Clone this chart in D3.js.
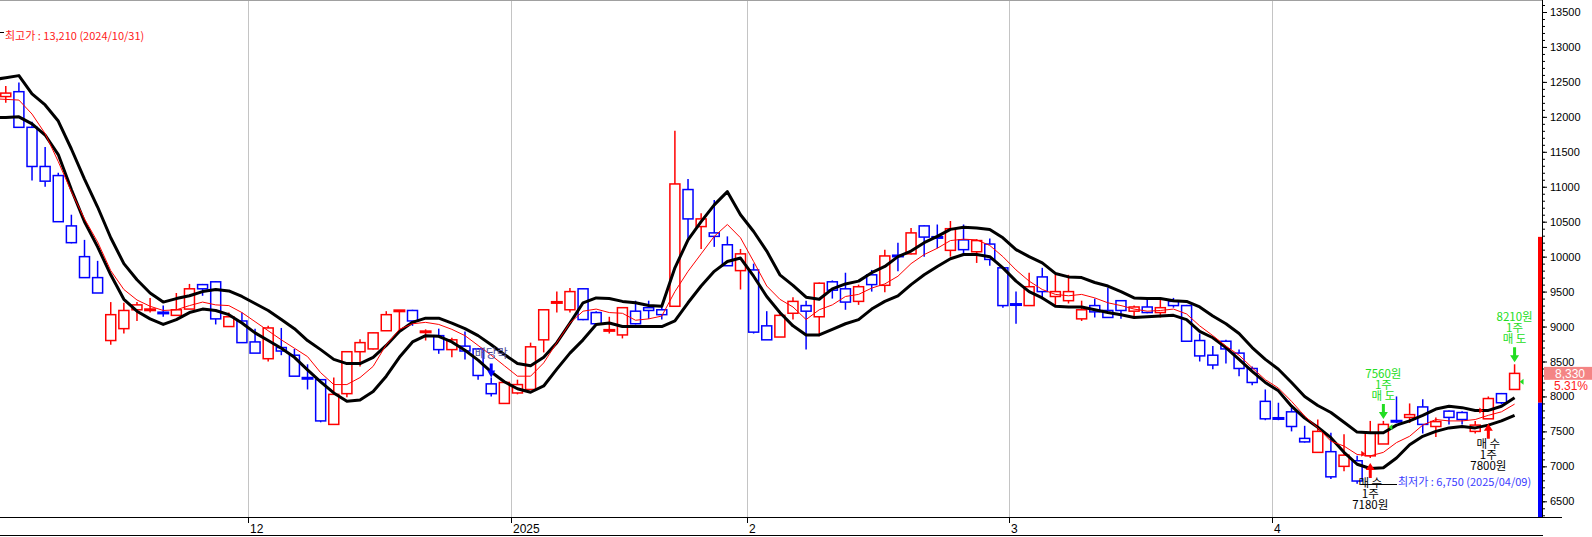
<!DOCTYPE html>
<html>
<head>
<meta charset="utf-8">
<script src="https://cdn.jsdelivr.net/npm/d3@7"></script>
<style>
  body { margin: 0; background: #fff; }
  svg { display: block; }
</style>
</head>
<body>
<div id="chart"></div>
<script>
// trading days shown (first one sits just off the left edge)
const dates = [
  "2024-11-04","2024-11-05","2024-11-06","2024-11-07","2024-11-08",
  "2024-11-11","2024-11-12","2024-11-13","2024-11-14","2024-11-15",
  "2024-11-18","2024-11-19","2024-11-20","2024-11-21","2024-11-22",
  "2024-11-25","2024-11-26","2024-11-27","2024-11-28","2024-11-29",
  "2024-12-02","2024-12-03","2024-12-04","2024-12-05","2024-12-06",
  "2024-12-09","2024-12-10","2024-12-11","2024-12-12","2024-12-13",
  "2024-12-16","2024-12-17","2024-12-18","2024-12-19","2024-12-20",
  "2024-12-23","2024-12-24","2024-12-26","2024-12-27","2024-12-30",
  "2025-01-02","2025-01-03","2025-01-06","2025-01-07","2025-01-08",
  "2025-01-09","2025-01-10","2025-01-13","2025-01-14","2025-01-15",
  "2025-01-16","2025-01-17","2025-01-20","2025-01-21","2025-01-22",
  "2025-01-23","2025-01-24","2025-01-31","2025-02-03","2025-02-04",
  "2025-02-05","2025-02-06","2025-02-07","2025-02-10","2025-02-11",
  "2025-02-12","2025-02-13","2025-02-14","2025-02-17","2025-02-18",
  "2025-02-19","2025-02-20","2025-02-21","2025-02-24","2025-02-25",
  "2025-02-26","2025-02-27","2025-02-28","2025-03-04","2025-03-05",
  "2025-03-06","2025-03-07","2025-03-10","2025-03-11","2025-03-12",
  "2025-03-13","2025-03-14","2025-03-17","2025-03-18","2025-03-19",
  "2025-03-20","2025-03-21","2025-03-24","2025-03-25","2025-03-26",
  "2025-03-27","2025-03-28","2025-03-31","2025-04-01","2025-04-02",
  "2025-04-03","2025-04-04","2025-04-07","2025-04-08","2025-04-09",
  "2025-04-10","2025-04-11","2025-04-14","2025-04-15","2025-04-16",
  "2025-04-17","2025-04-18","2025-04-21","2025-04-22","2025-04-23",
  "2025-04-24","2025-04-25"
]

const opens = [
  12250,12290,12360,11850,11290,11160,10440,10000,9700,8800,
  8970,9240,9230,9200,9160,9250,9600,9640,9000,9080,
  8780,8540,8700,8590,8270,8240,7600,8040,8640,8680,
  8940,9220,9230,8920,8870,8670,8720,8680,8180,7900,
  8050,8100,8810,9340,9240,9540,9200,8940,8880,9220,
  9270,9240,9290,10960,10430,10340,10170,9800,9810,9010,
  8850,9190,9300,9140,9640,9540,9360,9740,9590,10020,
  10040,10440,10280,10090,10240,10070,10180,9840,9320,9300,
  9710,9430,9370,9110,9300,9230,9370,9220,9280,9200,
  9360,9300,8800,8590,8790,8620,8400,7930,7690,7780,
  7400,7200,7210,7000,7080,7150,7320,7650,7700,7850,
  7570,7790,7770,7500,7680,8040,8100
]
const highs = [
  12400,12440,12490,11930,11570,11200,10600,10240,9940,9350,
  9340,9350,9410,9300,9480,9610,9610,9650,9200,9200,
  8970,9010,8980,8680,8460,8250,8270,8650,8820,8920,
  9220,9230,9240,8960,8970,8840,8930,8690,8270,8220,
  8240,8770,9250,9500,9550,9550,9220,9140,9270,9370,
  9370,9300,11800,11110,10620,10810,10290,10110,9900,9220,
  9220,9420,9370,9630,9660,9770,9600,9810,10100,10200,
  10410,10450,10460,10510,10460,10250,10260,9850,9500,9770,
  9840,9740,9740,9370,9400,9560,9380,9300,9390,9390,
  9410,9310,8900,8720,8810,8670,8430,8100,7910,7840,
  7580,7670,7480,7460,7150,7650,7650,8000,7900,7960,
  7700,7800,7790,7650,8000,8050,8460
]
const lows = [
  12150,12200,11850,11090,11000,10500,10190,9700,9480,8740,
  8900,9080,9200,9140,9160,9250,9440,9030,9000,8770,
  8620,8500,8590,8290,8100,7630,7600,7990,8430,8670,
  8940,8930,9010,8800,8610,8560,8530,8240,8000,7900,
  8030,8100,8630,9200,9200,9090,9040,8900,8830,9030,
  9110,9100,9280,10230,10110,10140,9870,9530,8900,8810,
  8850,9100,8670,8860,9400,9240,9310,9500,9490,9790,
  10030,10000,10120,10000,10030,9910,9870,9270,9040,9300,
  9390,9300,9330,9080,9130,9130,9110,9130,9190,9130,
  9270,8790,8500,8390,8470,8290,8160,7660,7660,7500,
  7340,7190,6820,6930,6750,7120,7320,7620,7620,7470,
  7420,7600,7600,7470,7680,7890,8100
]
const closes = [
  12300,12340,11850,11290,11080,10500,10200,9700,9480,9170,
  9230,9310,9250,9190,9240,9540,9540,9110,9140,8770,
  8620,8980,8650,8290,8250,7650,8030,8640,8770,8910,
  9170,9230,9080,8930,8670,8810,8650,8300,8040,8200,
  8170,8710,9240,9350,9500,9100,9040,8950,9270,9040,
  9230,9170,11040,10540,10540,10290,9870,10040,8920,8810,
  9160,9360,9220,9620,9520,9350,9570,9600,10010,10000,
  10340,10280,10270,10400,10100,10230,9960,9300,9310,9570,
  9500,9500,9500,9240,9210,9130,9230,9280,9200,9270,
  9300,8790,8580,8450,8680,8400,8200,7680,7680,7570,
  7350,7500,6850,7160,6790,7480,7600,7640,7740,7600,
  7640,7700,7670,7590,7970,7910,8330
]

// envelope lines (black) and short moving average (red)
const upperBand = [
  12530,12560,12590,12330,12170,11940,11540,11110,10710,10270,
  9900,9670,9480,9350,9400,9440,9500,9530,9510,9430,
  9330,9230,9100,8970,8800,8670,8530,8470,8470,8560,
  8730,8930,9060,9120,9120,9050,8970,8870,8740,8600,
  8470,8440,8560,8770,9050,9340,9410,9400,9360,9340,
  9300,9290,9840,10240,10500,10740,10930,10600,10360,10080,
  9740,9590,9420,9390,9540,9610,9650,9770,9860,10000,
  10080,10200,10290,10390,10420,10410,10390,10270,10100,10000,
  9910,9760,9710,9700,9630,9580,9500,9410,9400,9400,
  9370,9360,9280,9150,9040,8900,8700,8530,8390,8200,
  8000,7870,7770,7630,7490,7480,7480,7590,7650,7730,
  7820,7860,7840,7800,7800,7860,7980
]
const lowerBand = [
  11990,11990,12000,11900,11740,11460,10960,10500,10140,9740,
  9390,9220,9110,9030,9100,9200,9250,9230,9170,9050,
  8910,8800,8690,8560,8380,8210,8050,7930,7950,8070,
  8290,8560,8780,8870,8860,8780,8660,8520,8350,8210,
  8110,8060,8150,8390,8620,8810,9030,9050,9000,9000,
  9000,9000,9080,9340,9580,9790,9930,9980,9720,9430,
  9200,9010,8880,8880,8960,9040,9100,9250,9360,9440,
  9600,9740,9860,9970,10030,10030,10000,9840,9650,9500,
  9410,9290,9280,9280,9240,9200,9170,9130,9140,9150,
  9160,9100,8930,8840,8700,8530,8360,8200,8080,7860,
  7690,7560,7410,7200,7030,6970,6980,7120,7310,7430,
  7500,7550,7570,7550,7590,7650,7730
]
const ma5 = [
  12260,12250,12240,12040,11760,11360,10930,10540,10210,9800,
  9530,9380,9290,9230,9240,9300,9350,9310,9300,9200,
  9070,8940,8810,8690,8570,8340,8170,8170,8270,8430,
  8740,8960,9040,9060,9030,8960,8870,8730,8590,8440,
  8290,8290,8480,8770,9050,9220,9250,9200,9190,9090,
  9110,9150,9500,9790,10040,10290,10460,10270,9930,9580,
  9390,9280,9100,9240,9310,9430,9460,9550,9610,9720,
  9900,10030,10120,10230,10250,10240,10160,10000,9810,9650,
  9530,9460,9440,9460,9410,9340,9300,9250,9220,9230,
  9250,9180,9010,8870,8720,8590,8410,8240,8120,7930,
  7720,7550,7360,7290,7170,7150,7200,7340,7430,7590,
  7670,7650,7650,7670,7730,7780,7890
]

const monthTicks = ["2024-12-02","2025-01-02","2025-02-03","2025-03-04","2025-04-01"]
const monthLabels = ["12","2025","2","3","4"]
const priceTicks = [6500,7000,7500,8000,8500,9000,9500,10000,10500,11000,11500,12000,12500,13000,13500]

const tradeDates = ["2025-04-10","2025-04-11","2025-04-23","2025-04-25"]
const tradeSides = ["buy","sell","buy","sell"]
const tradePrices = [7180,7560,7800,8210]

const exDivDate = "2024-12-27"
const lastPrice = 8330, prevClose = 7910, upperLimit = 10283, changePct = "5.31%"
const highLabel = "최고가 : 13,210 (2024/10/31)"
const lowLabel = "최저가 : 6,750 (2025/04/09)", lowDate = "2025-04-09", lowPrice = 6750

// ---- layout
const W = 1592, H = 537
const axisX = 1542, plotBottom = 517
const numFont = "'Liberation Sans', Arial, sans-serif"
const krFont = "'Noto Sans CJK KR', 'Noto Sans', sans-serif"

const x = d3.scaleBand().domain(dates).range([-13.9, -13.9 + dates.length * 13.12])
const y = d3.scaleLinear().domain([6500, 13500]).range([501.3, 12])
const cx = d => x(d) + x.bandwidth() / 2

const svg = d3.select("#chart").append("svg").attr("width", W).attr("height", H)

svg.append("defs").append("clipPath").attr("id", "plot")
    .append("rect").attr("x", 0).attr("y", 0).attr("width", 1538).attr("height", plotBottom)

// month grid
svg.append("g").selectAll("line").data(monthTicks).join("line")
    .attr("x1", d => Math.round(x(d)) + 0.5).attr("x2", d => Math.round(x(d)) + 0.5)
    .attr("y1", 0).attr("y2", plotBottom)
    .attr("stroke", "#c4c4c4")

// frame
svg.append("line").attr("x1", 0).attr("x2", axisX).attr("y1", 0.5).attr("y2", 0.5).attr("stroke", "#a0a0a0")
svg.append("line").attr("x1", 0).attr("x2", 1562).attr("y1", plotBottom + 0.5).attr("y2", plotBottom + 0.5).attr("stroke", "#000")
svg.append("line").attr("x1", 0).attr("x2", axisX + 1).attr("y1", 535.5).attr("y2", 535.5).attr("stroke", "#000")

// candles
const candles = dates.map((d, i) => ({ d: d, o: opens[i], h: highs[i], l: lows[i], c: closes[i] }))
const colour = k => k.c >= k.o ? "#ff0000" : "#0000ff"
const bodyTop = k => y(Math.max(k.o, k.c))
const bodyBot = k => y(Math.min(k.o, k.c))
const flat = k => bodyBot(k) - bodyTop(k) < 2.5

const plot = svg.append("g").attr("clip-path", "url(#plot)")
const cg = plot.append("g").selectAll("g").data(candles).join("g")

cg.append("line")
    .attr("x1", k => cx(k.d)).attr("x2", k => cx(k.d))
    .attr("y1", k => y(k.h)).attr("y2", bodyTop)
    .attr("stroke", colour).attr("stroke-width", 1.5)
cg.append("line")
    .attr("x1", k => cx(k.d)).attr("x2", k => cx(k.d))
    .attr("y1", bodyBot).attr("y2", k => y(k.l))
    .attr("stroke", colour).attr("stroke-width", 1.5)
cg.filter(k => !flat(k)).append("rect")
    .attr("x", k => cx(k.d) - 5).attr("y", bodyTop)
    .attr("width", 10).attr("height", k => bodyBot(k) - bodyTop(k))
    .attr("fill", "#fff").attr("stroke", colour).attr("stroke-width", 1.5)
cg.filter(flat).append("line")
    .attr("x1", k => cx(k.d) - 6).attr("x2", k => cx(k.d) + 6)
    .attr("y1", k => (bodyTop(k) + bodyBot(k)) / 2).attr("y2", k => (bodyTop(k) + bodyBot(k)) / 2)
    .attr("stroke", colour).attr("stroke-width", 3)

// bands
const line = d3.line().x((v, i) => cx(dates[i])).y(v => y(v))
plot.append("path").datum(upperBand).attr("d", line)
    .attr("fill", "none").attr("stroke", "#000").attr("stroke-width", 3).attr("stroke-linejoin", "round")
plot.append("path").datum(lowerBand).attr("d", line)
    .attr("fill", "none").attr("stroke", "#000").attr("stroke-width", 3).attr("stroke-linejoin", "round")
plot.append("path").datum(ma5).attr("d", line)
    .attr("fill", "none").attr("stroke", "#ff0000").attr("stroke-width", 1)

// arrows: dir 1 points down, -1 points up
function arrow(g, xc, tip, dir, col, len, headW, headL, shaft) {
    const base = tip - dir * len, neck = tip - dir * headL
    const p = [[xc - shaft / 2, base], [xc + shaft / 2, base], [xc + shaft / 2, neck], [xc + headW / 2, neck],
               [xc, tip], [xc - headW / 2, neck], [xc - shaft / 2, neck]]
    g.append("path").attr("d", d3.line()(p) + "Z").attr("fill", col)
}

// stacked note: one text element, one tspan per line
function note(g, xc, y0, lines, col) {
    const t = g.append("text").attr("x", xc).attr("y", y0)
        .attr("text-anchor", "middle").attr("font-family", krFont).attr("font-size", 11.5).attr("fill", col)
    lines.forEach((s, j) => t.append("tspan").attr("x", xc).attr("dy", j == 0 ? 0 : 11).text(s))
}

const ann = svg.append("g")

// ex-dividend note
const exK = candles[dates.indexOf(exDivDate)]
ann.append("text").attr("x", cx(exDivDate)).attr("y", y(exK.h) - 20)
    .attr("text-anchor", "middle").attr("font-family", krFont).attr("font-size", 12)
    .attr("fill", "#50509a").text("배당락")
arrow(ann, cx(exDivDate), y(exK.h), 1, "#0000ff", 14, 8, 7, 3)

// trades
tradeDates.forEach((d, i) => {
    const k = candles[dates.indexOf(d)], xc = cx(d), py = y(tradePrices[i])
    if (tradeSides[i] == "buy") {
        const tip = y(k.l) + 5
        arrow(ann, xc, tip, -1, "#ff0000", 15, 9, 7, 3)
        ann.append("path").attr("d", d3.line()([[xc - 9, py - 3], [xc - 9, py + 3], [xc - 5, py]]) + "Z").attr("fill", "#ff0000")
        note(ann, xc, tip + 24, ["매 수", "1주", tradePrices[i] + "원"], "#000")
    } else {
        const tip = y(k.h) - 2
        arrow(ann, xc, tip, 1, "#22dd22", 15, 9, 7, 3)
        ann.append("path").attr("d", d3.line()([[xc + 9, py - 3], [xc + 9, py + 3], [xc + 5, py]]) + "Z").attr("fill", "#22dd22")
        note(ann, xc, tip - 41, [tradePrices[i] + "원", "1주", "매 도"], "#22dd22")
    }
})

// highest / lowest price notes
ann.append("line").attr("x1", 0).attr("x2", 4).attr("y1", 32.5).attr("y2", 32.5).attr("stroke", "#000")
ann.append("text").attr("x", 5).attr("y", 40).attr("font-family", krFont).attr("font-size", 11)
    .attr("fill", "#ff2020").text(highLabel)
ann.append("line").attr("x1", cx(lowDate) + 4).attr("x2", 1397).attr("y1", Math.round(y(lowPrice)) + 0.5).attr("y2", Math.round(y(lowPrice)) + 0.5)
    .attr("stroke", "#000")
ann.append("text").attr("x", 1398).attr("y", y(lowPrice) + 2).attr("font-family", krFont).attr("font-size", 11)
    .attr("fill", "#3c3cff").text(lowLabel)

// right axis
svg.append("rect").attr("x", 1538).attr("y", y(upperLimit)).attr("width", 4).attr("height", y(prevClose) - y(upperLimit)).attr("fill", "#ff0000")
svg.append("rect").attr("x", 1538).attr("y", y(prevClose)).attr("width", 4).attr("height", plotBottom - y(prevClose)).attr("fill", "#0000ff")
svg.append("line").attr("x1", axisX + 0.5).attr("x2", axisX + 0.5).attr("y1", 0).attr("y2", plotBottom).attr("stroke", "#000")

const minor = svg.append("g").attr("transform", `translate(${axisX},0)`)
    .call(d3.axisRight(y).tickValues(d3.range(6300, 13601, 100)).tickSize(3).tickFormat(""))
minor.select(".domain").remove()
const ga = svg.append("g").attr("transform", `translate(${axisX},0)`)
    .call(d3.axisRight(y).tickValues(priceTicks).tickSize(5).tickPadding(3).tickFormat(d3.format("d")))
ga.select(".domain").remove()
ga.attr("font-family", numFont).attr("font-size", 11)

// last price box
const ly = y(lastPrice)
svg.append("rect").attr("x", 1544).attr("y", ly - 6.5).attr("width", 48).attr("height", 13).attr("fill", "#f48484")
svg.append("text").attr("x", 1570).attr("y", ly + 4.5).attr("text-anchor", "middle")
    .attr("font-family", numFont).attr("font-size", 12).attr("fill", "#fff").text(d3.format(",")(lastPrice))
svg.append("rect").attr("x", 1550).attr("y", ly + 6.5).attr("width", 42).attr("height", 12).attr("fill", "#fff")
svg.append("text").attr("x", 1571).attr("y", ly + 17).attr("text-anchor", "middle")
    .attr("font-family", numFont).attr("font-size", 12).attr("fill", "#ff2020").text(changePct)

// bottom axis
const gx = svg.append("g")
gx.selectAll("line").data(monthTicks).join("line")
    .attr("x1", d => Math.round(x(d)) + 0.5).attr("x2", d => Math.round(x(d)) + 0.5)
    .attr("y1", plotBottom).attr("y2", plotBottom + 6).attr("stroke", "#000")
gx.selectAll("text").data(monthTicks).join("text")
    .attr("x", d => Math.round(x(d)) + 2).attr("y", 533)
    .attr("font-family", numFont).attr("font-size", 12).attr("fill", "#000")
    .text((d, i) => monthLabels[i])
</script>
</body>
</html>
